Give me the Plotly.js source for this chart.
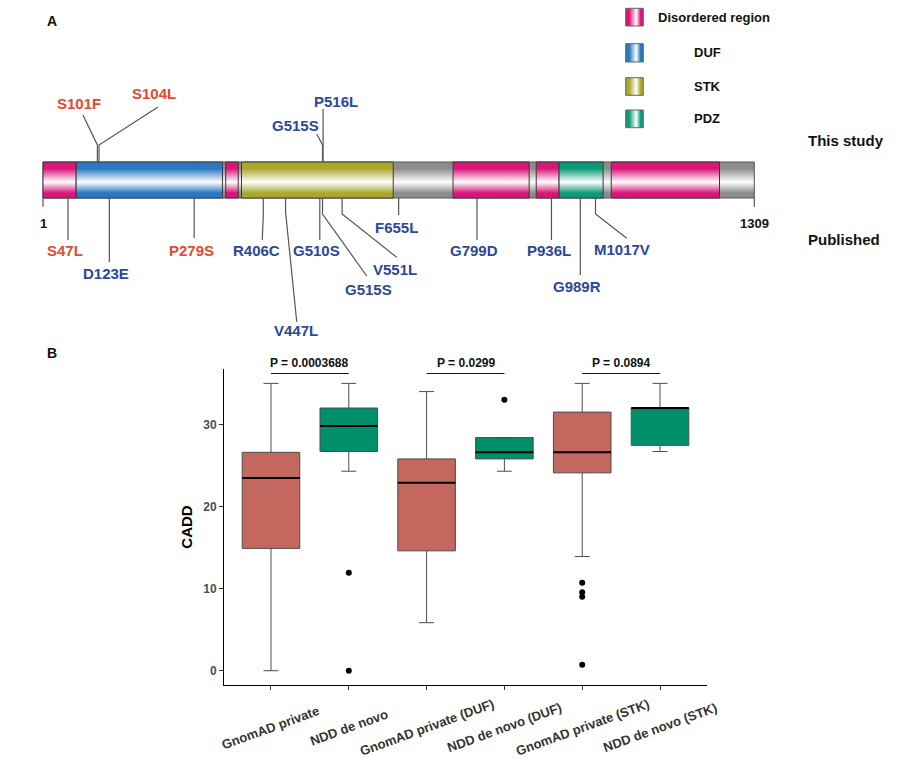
<!DOCTYPE html>
<html><head><meta charset="utf-8">
<script src="https://cdn.plot.ly/plotly-3.0.1.min.js"></script>
<style>html,body{margin:0;padding:0;background:#fff}#chart{width:919px;height:763px}</style>
</head><body><div id="chart"></div>
<script>
// ================= DATA : panel A (protein map) =================
const proteinLength = 1309;
const domainNames = ['Disordered region', 'DUF', 'STK', 'PDZ'];
const segType  = ['Disordered region', 'DUF', 'Disordered region', 'STK', 'Disordered region', 'Disordered region', 'PDZ', 'Disordered region'];
const segStart = [1, 62, 337, 366, 755, 908, 950, 1046];
const segEnd   = [62, 331, 360, 645, 895, 950, 1031, 1245];

const mutName   = ['S101F', 'S104L', 'G515S', 'P516L', 'S47L', 'D123E', 'P279S', 'R406C', 'V447L', 'G510S', 'G515S', 'V551L', 'F655L', 'G799D', 'P936L', 'G989R', 'M1017V'];
const mutPos    = [101, 104, 515, 516, 47, 123, 279, 406, 447, 510, 515, 551, 655, 799, 936, 989, 1017];
const mutSource = ['This study', 'This study', 'This study', 'This study', 'Published', 'Published', 'Published', 'Published', 'Published', 'Published', 'Published', 'Published', 'Published', 'Published', 'Published', 'Published', 'Published'];
const mutGroup  = ['g1', 'g1', 'g2', 'g2', 'g1', 'g2', 'g1', 'g2', 'g2', 'g2', 'g2', 'g2', 'g2', 'g2', 'g2', 'g2', 'g2'];

// ================= DATA : panel B (CADD box plot) =================
const categories = ['GnomAD private', 'NDD de novo', 'GnomAD private (DUF)', 'NDD de novo (DUF)', 'GnomAD private (STK)', 'NDD de novo (STK)'];
const cohort     = ['GnomAD', 'NDD', 'GnomAD', 'NDD', 'GnomAD', 'NDD'];
const lowerFence = [0, 24.3, 5.85, 24.3, 13.9, 26.7];
const q1         = [14.9, 26.7, 14.6, 25.8, 24.1, 27.45];
const median     = [23.47, 29.8, 22.9, 26.6, 26.6, 32.0];
const q3         = [26.6, 32.0, 25.8, 28.4, 31.5, 32.0];
const upperFence = [35, 35, 34.0, 28.4, 35, 35];
const outlierCategory = [1, 1, 3, 4, 4, 4, 4];
const outlierValue    = [11.94, 0, 33.0, 10.7, 9.55, 9.0, 0.73];
const comparePairs = [[0, 1], [2, 3], [4, 5]];
const pValueText   = ['P = 0.0003688', 'P = 0.0299', 'P = 0.0894'];
const yTicks = [0, 10, 20, 30];

// ================= STYLE / LAYOUT =================
const W = 919, H = 763;
const FONT = 'Liberation Sans, Arial, Helvetica, sans-serif';
const domainColor = {'Disordered region': '#d8167a', 'DUF': '#2a78c4', 'STK': '#a9a82c', 'PDZ': '#0e9a78'};
const greyColor = '#8c8c8c';
const groupColor = {g1: '#e6492c', g2: '#2a489c'};
const cohortColor = {GnomAD: '#c4675f', NDD: '#008f6b'};

// residue -> pixel mapping for the protein track (x2 axis is in residues)
const px1 = 43, pxEnd = 754.3;
const k = (pxEnd - px1) / (proteinLength - 1);
const x2range = [1 - px1 / k, 1 + (W - px1) / k];
const dpx = d => d / k;             // pixel offset -> residue offset
const pxToRes = p => 1 + (p - px1) / k;
const barTop = 162, barBot = 198;   // y2 axis is in pixels from top

// label placement (offsets in px from residue position)
const labelPlace = [
  {dx: -18.4, ly: 103.3, elbow: 145, ex: -14.4, ey: 115},
  {dx: 55,    ly: 93.3,  elbow: 145, ex: 59,    ey: 107},
  {dx: -27.5, ly: 125,   elbow: 145, ex: -5.8,  ey: 134},
  {dx: 12.5,  ly: 101,   elbow: null, ex: 0,    ey: 109},
  {dx: -3,    ly: 250.7, elbow: null, ex: 0,    ey: 240},
  {dx: -3.3,  ly: 273,   elbow: null, ex: 0,    ey: 262},
  {dx: -2.5,  ly: 250.7, elbow: null, ex: 0,    ey: 238},
  {dx: -6.5,  ly: 250.7, elbow: 216.7, ex: -1,  ey: 240},
  {dx: 10.3,  ly: 330,   elbow: 211.7, ex: 11.2, ey: 321.7},
  {dx: -3,    ly: 250.7, elbow: null, ex: 0,    ey: 240},
  {dx: 45.8,  ly: 289.3, elbow: 214, ex: 44.2,  ey: 276},
  {dx: 52.9,  ly: 269.3, elbow: 214, ex: 54.6,  ey: 257.3},
  {dx: -2,    ly: 227.3, elbow: null, ex: 0,    ey: 215},
  {dx: -2.8,  ly: 250.7, elbow: null, ex: 0,    ey: 240},
  {dx: -2.8,  ly: 250.7, elbow: null, ex: 0,    ey: 240},
  {dx: -2.8,  ly: 286.7, elbow: null, ex: 0,    ey: 275},
  {dx: 26.2,  ly: 249.3, elbow: 214, ex: 31.2,  ey: 238.3}
];

const traces = [];
const annotations = [];
const bold = (size, color) => ({family: FONT, size: size, color: color || '#111', weight: 'bold'});
const px = x => x / W, py = y => 1 - y / H;

function rectTrace(x0, x1, y0, y1, color, orient, lineColor) {
  const cs = orient === 'vertical'
    ? [[0, color], [0.18, color], [0.56, '#ffffff'], [0.86, color], [1, color]]
    : [[0, color], [0.2, color], [0.6, '#ffffff'], [0.85, color], [1, color]];
  return {
    type: 'scatter', mode: 'lines', xaxis: 'x2', yaxis: 'y2',
    x: [x0, x1, x1, x0, x0], y: [y0, y0, y1, y1, y0],
    fill: 'toself',
    fillgradient: {type: orient, colorscale: cs,
      start: orient === 'vertical' ? y0 : x0, stop: orient === 'vertical' ? y1 : x1},
    line: {color: lineColor || '#4a4a4a', width: 1},
    hoverinfo: 'skip', showlegend: false
  };
}

// grey backbone
traces.push(rectTrace(1, proteinLength, barTop, barBot, greyColor, 'vertical', '#555'));
// domains
segType.forEach((t, i) => traces.push(rectTrace(segStart[i], segEnd[i], barTop, barBot, domainColor[t], 'vertical', '#3a3a3a')));

// mutation connector lines
const lx = [], ly = [];
mutName.forEach((m, i) => {
  const r = mutPos[i], p = labelPlace[i];
  const y0 = mutSource[i] === 'This study' ? barTop : barBot;
  lx.push(r); ly.push(y0);
  if (p.elbow !== null) { lx.push(r); ly.push(p.elbow); }
  lx.push(r + dpx(p.ex)); ly.push(p.ey);
  lx.push(null); ly.push(null);
  annotations.push({xref: 'x2', yref: 'y2', x: r + dpx(p.dx), y: p.ly, text: m, showarrow: false,
    xanchor: 'center', yanchor: 'middle', font: bold(15, groupColor[mutGroup[i]])});
});
// protein ends
[1, proteinLength].forEach(r => {
  lx.push(r, r, null); ly.push(barBot, 206.7, null);
  annotations.push({xref: 'x2', yref: 'y2', x: r, y: 223, text: String(r), showarrow: false,
    xanchor: 'center', yanchor: 'middle', font: bold(13, '#111')});
});
traces.push({type: 'scatter', mode: 'lines', xaxis: 'x2', yaxis: 'y2', x: lx, y: ly,
  line: {color: '#555', width: 1.2}, hoverinfo: 'skip', showlegend: false});

// legend squares
const legendRows = [[8.3, 26], [43.7, 62], [77.7, 95.3], [110, 127.7]];
const legendTextX = [656, 692.3, 692.3, 692.3];
domainNames.forEach((d, i) => {
  traces.push(rectTrace(pxToRes(625.7), pxToRes(643.3), legendRows[i][0], legendRows[i][1], domainColor[d], 'horizontal', '#666'));
  annotations.push({xref: 'paper', yref: 'paper', x: px(legendTextX[i]), y: py((legendRows[i][0] + legendRows[i][1]) / 2),
    text: d, showarrow: false, xanchor: 'left', yanchor: 'middle', font: bold(13, '#111')});
});

annotations.push({xref: 'paper', yref: 'paper', x: px(845.7), y: py(140.7), text: 'This study', showarrow: false, xanchor: 'center', yanchor: 'middle', font: bold(15)});
annotations.push({xref: 'paper', yref: 'paper', x: px(844), y: py(239.5), text: 'Published', showarrow: false, xanchor: 'center', yanchor: 'middle', font: bold(15)});
annotations.push({xref: 'paper', yref: 'paper', x: px(52), y: py(20.7), text: 'A', showarrow: false, xanchor: 'center', yanchor: 'middle', font: bold(14)});
annotations.push({xref: 'paper', yref: 'paper', x: px(52), y: py(353), text: 'B', showarrow: false, xanchor: 'center', yanchor: 'middle', font: bold(14)});

// ---------------- panel B ----------------
['GnomAD', 'NDD'].forEach(c => {
  const idx = categories.map((_, i) => i).filter(i => cohort[i] === c);
  traces.push({
    type: 'box', xaxis: 'x', yaxis: 'y', name: c,
    x: idx, q1: idx.map(i => q1[i]), median: idx.map(i => median[i]), q3: idx.map(i => q3[i]),
    lowerfence: idx.map(i => lowerFence[i]), upperfence: idx.map(i => upperFence[i]),
    fillcolor: cohortColor[c], line: {color: '#4d4d4d', width: 1},
    whiskerwidth: 0.26, width: 0.74, boxpoints: false, hoverinfo: 'skip', showlegend: false
  });
});
// median lines (thick black)
const mx = [], my = [];
categories.forEach((_, i) => { mx.push(i - 0.37, i + 0.37, null); my.push(median[i], median[i], null); });
traces.push({type: 'scatter', mode: 'lines', xaxis: 'x', yaxis: 'y', x: mx, y: my,
  line: {color: '#000', width: 2}, hoverinfo: 'skip', showlegend: false});
// outliers
traces.push({type: 'scatter', mode: 'markers', xaxis: 'x', yaxis: 'y', x: outlierCategory, y: outlierValue,
  marker: {color: '#000', size: 6}, cliponaxis: false, hoverinfo: 'skip', showlegend: false});
// significance brackets
const bracketY = 36.2;
const bx = [], by = [];
comparePairs.forEach((p, i) => {
  bx.push(p[0], p[1], null); by.push(bracketY, bracketY, null);
  annotations.push({xref: 'x', yref: 'y', x: (p[0] + p[1]) / 2, y: bracketY, yshift: 2, text: pValueText[i],
    showarrow: false, xanchor: 'center', yanchor: 'bottom', font: bold(12, '#111')});
});
traces.push({type: 'scatter', mode: 'lines', xaxis: 'x', yaxis: 'y', x: bx, y: by,
  line: {color: '#111', width: 1.2}, cliponaxis: false, hoverinfo: 'skip', showlegend: false});
// rotated category labels
categories.forEach((c, i) => {
  annotations.push({xref: 'x', yref: 'paper', x: i, y: py(727), text: c, textangle: -20, showarrow: false,
    xanchor: 'center', yanchor: 'middle', font: bold(13, '#333')});
});

const layout = {
  width: W, height: H, margin: {l: 0, r: 0, t: 0, b: 0},
  paper_bgcolor: '#fff', plot_bgcolor: 'rgba(0,0,0,0)',
  showlegend: false, boxmode: 'overlay',
  font: {family: FONT},
  xaxis: {domain: [224.3 / W, 706.7 / W], anchor: 'y', range: [-0.6, 5.6], tickvals: categories.map((_, i) => i),
    showticklabels: false, ticks: 'outside', ticklen: 4, tickcolor: '#333', tickwidth: 1,
    showline: true, linecolor: '#000', linewidth: 1.3, showgrid: false, zeroline: false, fixedrange: true},
  yaxis: {domain: [1 - 685 / H, 1 - 369 / H], anchor: 'x', range: [-1.74, 36.75], tickvals: yTicks,
    ticks: 'outside', ticklen: 4, tickcolor: '#333', tickwidth: 1,
    tickfont: bold(12, '#4d4d4d'),
    showline: true, linecolor: '#000', linewidth: 1.3, showgrid: false, zeroline: false, fixedrange: true,
    title: {text: 'CADD', font: bold(15, '#000'), standoff: 7}},
  xaxis2: {domain: [0, 1], anchor: 'y2', range: x2range, visible: false, fixedrange: true},
  yaxis2: {domain: [0, 1], anchor: 'x2', range: [H, 0], visible: false, fixedrange: true},
  annotations: annotations
};

Plotly.newPlot('chart', traces, layout, {displayModeBar: false, staticPlot: true});
</script>
</body></html>
